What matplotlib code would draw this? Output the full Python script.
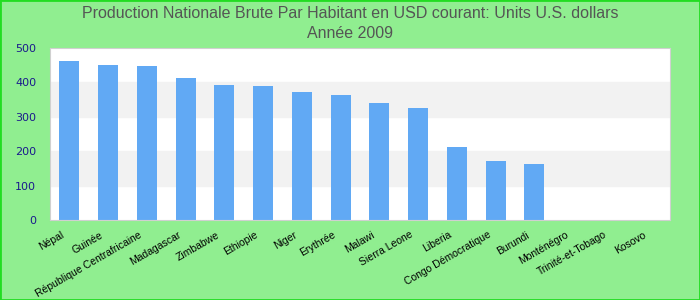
import numpy as np
import matplotlib.pyplot as plt
import matplotlib.transforms as mtrans

# Data
pays = ['Népal', 'Guinée', 'République Centrafricaine', 'Madagascar', 'Zimbabwe',
        'Ethiopie', 'Niger', 'Erythrée', 'Malawi', 'Sierra Leone', 'Liberia',
        'Congo Démocratique', 'Burundi', 'Monténégro', 'Trinité-et-Tobago', 'Kosovo']
valeurs = [462, 450, 448, 413, 392, 390, 372, 363, 340, 326, 212, 171, 163,
           np.nan, np.nan, np.nan]
yticks = [0, 100, 200, 300, 400, 500]

fig = plt.figure(figsize=(7, 3), dpi=100, facecolor='#90ee90')
fig.patches.append(plt.Rectangle((0, 0), 1, 1, transform=fig.transFigure,
                                 fill=False, edgecolor='#22dd22', linewidth=2))
ax = fig.add_axes([50 / 700, 80 / 300, 620 / 700, 172 / 300])
ax.set_facecolor('white')

# alternating bands
for lo in [100, 300]:
    ax.axhspan(lo, lo + 100, color='#f2f2f2', zorder=0)

x = np.arange(len(pays))
ax.bar(x, np.nan_to_num(valeurs), width=0.52, color='#61a9f4', zorder=2)

ax.set_xlim(-0.5, len(pays) - 0.5)
ax.set_ylim(0, 500)
ax.set_yticks(yticks)
ax.tick_params(axis='y', colors='#1a1a8c', labelsize=8, length=0, pad=10)
ax.tick_params(axis='x', length=0, labelsize=7.5, pad=6)
ax.set_xticks(x)
ax.set_xticklabels(pays, rotation=30, ha='right', rotation_mode='anchor',
                   family='Liberation Sans')
shift = mtrans.ScaledTranslation(-6 / 72, -1 / 72, fig.dpi_scale_trans)
for lab in ax.get_xticklabels():
    lab.set_transform(lab.get_transform() + shift)
for s in ax.spines.values():
    s.set_color('#d0d0d0')

fig.suptitle('Production Nationale Brute Par Habitant en USD courant: Units U.S. dollars\nAnnée 2009',
             y=0.98, fontsize=11.5, color='#555555', linespacing=1.4,
             family='Liberation Sans')

plt.savefig('out.png', facecolor=fig.get_facecolor())
